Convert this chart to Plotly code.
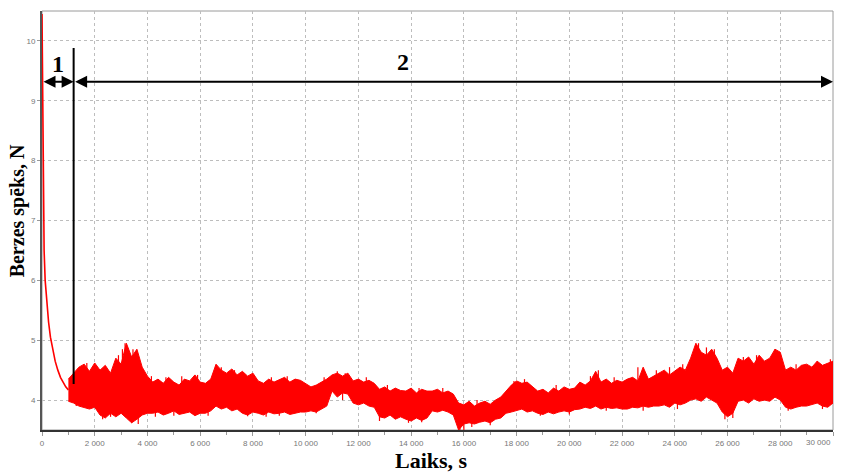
import plotly.graph_objects as go

# ---------------- data ----------------
# initial run-in (decay) part
t_decay = [0, 10, 30, 50, 80, 120, 180, 250, 320, 400, 500, 600, 700, 800, 900, 1000]
f_decay = [10.45, 10.0, 9.0, 7.5, 6.5, 6.0, 5.6, 5.3, 5.05, 4.85, 4.65, 4.5, 4.38, 4.3, 4.22, 4.17]

# steady part: time samples (s)
t_band = list(range(1000, 30001, 200))

# upper envelope of the noisy friction force (N)
f_upper = [
    4.35, 4.45, 4.55,
    4.60, 4.48, 4.62,
    4.50, 4.58, 4.45,
    4.70, 4.60,
    4.95,
    4.72, 4.85,
    4.55, 4.40,
    4.30, 4.35, 4.28, 4.38, 4.30, 4.25, 4.35, 4.32, 4.42, 4.30,
    4.28, 4.35,
    4.60, 4.50, 4.45, 4.52, 4.42, 4.48, 4.40, 4.45,
    4.32, 4.28, 4.35, 4.30, 4.34, 4.38, 4.30, 4.35, 4.33, 4.28,
    4.22, 4.25, 4.30, 4.35,
    4.42, 4.45, 4.40, 4.45,
    4.32, 4.35, 4.30, 4.33, 4.28,
    4.18, 4.22, 4.15, 4.20, 4.16,
    4.15, 4.20, 4.12, 4.18, 4.15,
    4.15, 4.18, 4.12, 4.15, 4.10,
    3.95, 3.92, 3.98, 3.90, 3.95, 3.98, 3.93, 4.00, 4.05,
    4.15, 4.25, 4.32, 4.28, 4.30, 4.22,
    4.15, 4.18, 4.12, 4.20, 4.15, 4.22, 4.18, 4.20,
    4.30, 4.25, 4.32, 4.48, 4.30, 4.35, 4.28, 4.33, 4.30,
    4.35, 4.38, 4.32, 4.55, 4.35, 4.40,
    4.45, 4.50, 4.42, 4.48, 4.55, 4.50,
    4.70, 4.95, 4.80, 4.75, 4.85, 4.70,
    4.50, 4.55, 4.45,
    4.70, 4.65, 4.72, 4.60, 4.75, 4.65, 4.70,
    4.85, 4.80,
    4.50, 4.55, 4.50, 4.58,
    4.60, 4.55, 4.65, 4.58, 4.62, 4.65,
]

# lower envelope of the noisy friction force (N)
f_lower = [
    3.98, 3.95, 3.90,
    3.87, 3.85, 3.88,
    3.75, 3.70, 3.78,
    3.72, 3.78,
    3.70,
    3.62, 3.68,
    3.75, 3.78,
    3.78, 3.80, 3.75, 3.78, 3.82, 3.76, 3.78, 3.80, 3.74, 3.78,
    3.78, 3.82,
    3.90, 3.85, 3.88, 3.82, 3.85, 3.78, 3.75, 3.80,
    3.78, 3.75, 3.80, 3.77, 3.78, 3.80, 3.76, 3.78, 3.80, 3.80,
    3.82, 3.80, 3.85, 3.90,
    4.15, 4.05, 4.12, 4.10,
    3.95, 3.92, 3.95, 3.90, 3.88,
    3.72, 3.70, 3.75, 3.68, 3.72,
    3.68, 3.65, 3.70, 3.66, 3.70,
    3.82, 3.80, 3.83, 3.80, 3.75,
    3.50, 3.60, 3.62, 3.60, 3.63, 3.65, 3.62, 3.68, 3.70,
    3.78, 3.80, 3.82, 3.85, 3.80, 3.82,
    3.78, 3.76, 3.80, 3.77, 3.80, 3.82, 3.80, 3.84,
    3.85, 3.88, 3.86, 3.90, 3.85, 3.88, 3.86, 3.87, 3.85,
    3.85, 3.88, 3.87, 3.90, 3.88, 3.90,
    3.90, 3.92, 3.88, 3.95, 3.92, 3.95,
    4.00, 4.02, 3.98, 4.05, 4.00, 3.95,
    3.80, 3.72, 3.78,
    3.98, 4.00, 3.95, 4.02, 3.98, 4.00, 3.98,
    4.05, 4.00,
    3.88, 3.85, 3.88, 3.90,
    3.90, 3.92, 3.95, 3.90, 3.88, 3.95,
]

# isolated noise spikes: time (s), start value and tip value (N)
spike_t = [1500, 1700, 1900, 2100, 2500, 2900, 3050, 3150, 3250, 3450, 3550, 3750,
           4150, 4700, 5300, 5900, 6600, 6800, 7300, 8700, 9300, 10700, 11200, 11500,
           12300, 13100, 14300, 15200, 16500, 17900, 18300, 19500, 20800, 21100, 21700,
           22600, 23300, 23800, 24300, 24900, 25200, 25500, 26600, 27100, 27800, 28600,
           29400, 29900,
           1300, 2300, 2600, 3400, 3650, 4300, 5000, 6300, 7800, 8500, 9000, 10400,
           11400, 12800, 13900, 14400, 15850, 16000, 16300, 17000, 18900, 20000, 21400,
           22800, 24100, 25900, 26200, 28300, 29600]
spike_from = [4.2, 4.2, 4.2, 4.2, 4.1, 4.2, 4.2, 4.2, 4.2, 4.2, 4.2, 4.1,
              4.1, 4.05, 4.05, 4.05, 4.2, 4.2, 4.15, 4.05, 4.05, 4.05, 4.3, 4.3,
              4.1, 3.95, 3.9, 4.0, 3.8, 4.05, 4.05, 4.0, 4.1, 4.1, 4.1,
              4.1, 4.15, 4.2, 4.2, 4.4, 4.4, 4.4, 4.3, 4.3, 4.4, 4.2,
              4.25, 4.3,
              4.15, 4.1, 4.1, 4.1, 4.1, 4.0, 4.0, 4.05, 4.05, 4.0, 4.0, 4.05,
              4.25, 3.95, 3.9, 3.9, 3.8, 3.8, 3.8, 3.8, 4.0, 4.0, 4.05,
              4.1, 4.2, 4.1, 4.1, 4.2, 4.2]
spike_tip = [4.55, 4.62, 4.5, 4.55, 4.5, 4.75, 4.85, 4.95, 4.8, 4.85, 4.7, 4.55,
             4.4, 4.38, 4.4, 4.42, 4.58, 4.55, 4.5, 4.38, 4.4, 4.38, 4.48, 4.45,
             4.38, 4.25, 4.2, 4.2, 4.0, 4.32, 4.35, 4.25, 4.4, 4.5, 4.38,
             4.55, 4.5, 4.55, 4.6, 4.95, 4.88, 4.85, 4.72, 4.75, 4.85, 4.6,
             4.65, 4.68,
             3.9, 3.68, 3.72, 3.62, 3.6, 3.72, 3.74, 3.74, 3.73, 3.72, 3.74, 3.78,
             4.0, 3.65, 3.62, 3.63, 3.48, 3.48, 3.55, 3.58, 3.74, 3.76, 3.82,
             3.82, 3.85, 3.68, 3.7, 3.82, 3.85]

x_tickvals = list(range(0, 30001, 2000))
x_ticktext = ["0", "2 000", "4 000", "6 000", "8 000", "10 000", "12 000", "14 000",
              "16 000", "18 000", "20 000", "22 000", "24 000", "26 000", "28 000", "30 000"]
y_tickvals = [4, 5, 6, 7, 8, 9, 10]
y_ticktext = ["4", "5", "6", "7", "8", "9", "10"]

stage_boundary = 1200
region_labels = ["1", "2"]

# ---------------- figure ----------------
RED = "#ff0000"
fig = go.Figure()
fig.add_trace(go.Scatter(x=t_band, y=f_lower, mode="lines",
                         line=dict(color=RED, width=1), hoverinfo="skip"))
fig.add_trace(go.Scatter(x=t_band, y=f_upper, mode="lines", fill="tonexty",
                         fillcolor=RED, line=dict(color=RED, width=1), hoverinfo="skip"))

sx, sy = [], []
for t, a, b in zip(spike_t, spike_from, spike_tip):
    sx += [t, t, None]
    sy += [a, b, None]
fig.add_trace(go.Scatter(x=sx, y=sy, mode="lines", line=dict(color=RED, width=1.2),
                         hoverinfo="skip", connectgaps=False))
fig.add_trace(go.Scatter(x=t_decay, y=f_decay, mode="lines",
                         line=dict(color=RED, width=1.6), hoverinfo="skip"))

serif = "Times New Roman, Liberation Serif, serif"
tickfont = dict(family="Arial, Liberation Sans, sans-serif", size=8, color="#777777")

# the last label sits flush with the right edge of the frame, drawn separately
shown_ticktext = x_ticktext[:-1] + [""]

fig.update_layout(
    width=845, height=472,
    margin=dict(l=42, r=12, t=11, b=42),
    paper_bgcolor="white", plot_bgcolor="white",
    showlegend=False,
    xaxis=dict(range=[0, 30000], tickvals=x_tickvals, ticktext=shown_ticktext,
               showgrid=True, gridcolor="#bdbdbd", griddash="dot", gridwidth=1,
               zeroline=False, showline=True, linecolor="#333333", linewidth=2,
               ticks="outside", ticklen=4, tickcolor="#999999",
               minor=dict(dtick=1000, ticks="outside", ticklen=3, tickcolor="#999999", showgrid=False),
               tickfont=tickfont),
    yaxis=dict(range=[3.5, 10.5], tickvals=y_tickvals, ticktext=y_ticktext,
               showgrid=True, gridcolor="#bdbdbd", griddash="dot", gridwidth=1,
               zeroline=False, showline=True, linecolor="#555555", linewidth=2,
               ticks="outside", ticklen=3, tickcolor="#999999",
               tickfont=tickfont),
)

fig.add_annotation(x=x_tickvals[-1], y=1, xref="x", yref="paper", yshift=-(419 + 12),
                   text=x_ticktext[-1], showarrow=False, xanchor="right", yanchor="middle",
                   font=tickfont)

# outer frame (top/right gray)
fig.add_shape(type="rect", xref="paper", yref="paper", x0=0, x1=1, y0=0, y1=1,
              line=dict(color="#9a9a9a", width=1), layer="below")

# stage boundary line
fig.add_shape(type="line", xref="x", yref="y", x0=stage_boundary, x1=stage_boundary,
              y0=4.27, y1=9.88, line=dict(color="black", width=2))

# double-headed arrows
arrow_y = 9.32
for x0, x1 in [(0, stage_boundary), (stage_boundary, 30000)]:
    fig.add_annotation(x=x1, y=arrow_y, ax=x0, ay=arrow_y, xref="x", yref="y",
                       axref="x", ayref="y", text="", showarrow=True,
                       arrowhead=2, startarrowhead=2, arrowside="end+start",
                       arrowsize=1.2, startarrowsize=1.2, arrowwidth=2, arrowcolor="black",
                       standoff=0, startstandoff=0)

# region labels
fig.add_annotation(x=600, y=9.62, xref="x", yref="y", text="<b>" + region_labels[0] + "</b>",
                   showarrow=False, font=dict(family=serif, size=24, color="black"))
fig.add_annotation(x=13700, y=9.65, xref="x", yref="y", text="<b>" + region_labels[1] + "</b>",
                   showarrow=False, font=dict(family=serif, size=24, color="black"))

# axis titles
fig.add_annotation(x=-0.031, y=0.523, xref="paper", yref="paper", text="<b>Berzes spēks, N</b>",
                   textangle=-90, showarrow=False, xanchor="center", yanchor="middle",
                   font=dict(family=serif, size=20, color="black"))
fig.add_annotation(x=0.492, y=-0.072, xref="paper", yref="paper", text="<b>Laiks, s</b>",
                   showarrow=False, xanchor="center", yanchor="middle",
                   font=dict(family=serif, size=22, color="black"))

fig.write_html("out.html", config={"displayModeBar": False},
               post_script="document.body.style.margin='0';document.body.style.overflow='hidden';")
